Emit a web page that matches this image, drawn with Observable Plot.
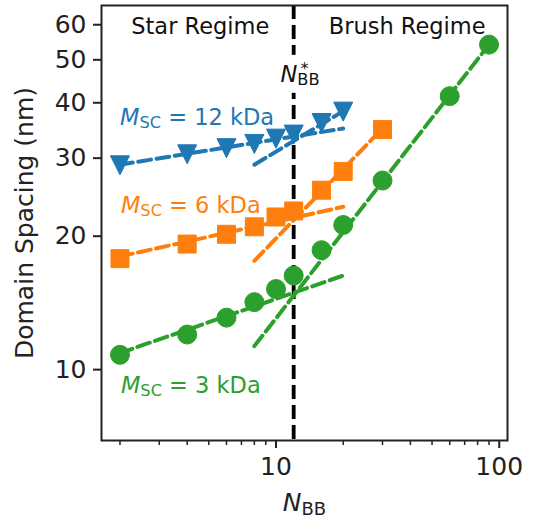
<!DOCTYPE html>
<html><head><meta charset="utf-8">
<script src="https://cdn.jsdelivr.net/npm/d3@7"></script>
<script src="https://cdn.jsdelivr.net/npm/@observablehq/plot@0.6"></script>
<style>body{margin:0;background:#fff}#chart svg{display:block}</style>
</head><body><div id="chart"></div>
<script>
// ---- data ----
const nbb12 = [2, 4, 6, 8, 10, 12, 16, 20];
const spacing12 = [28.9, 30.6, 31.6, 32.3, 33.2, 33.9, 36.0, 38.2];
const nbb6 = [2, 4, 6, 8, 10, 12, 16, 20, 30];
const spacing6 = [17.8, 19.2, 20.2, 21.0, 22.1, 22.8, 25.4, 28.0, 34.8];
const nbb3 = [2, 4, 6, 8, 10, 12, 16, 20, 30, 60, 90];
const spacing3 = [10.8, 12.0, 13.1, 14.2, 15.2, 16.3, 18.6, 21.2, 26.7, 41.4, 54.1];

// power-law fit segments (end points)
const starFit12N = [2, 20], starFit12D = [29.0, 35.0];
const brushFit12N = [8, 20], brushFit12D = [29.0, 38.3];
const starFit6N = [2, 20], starFit6D = [18.0, 23.3];
const brushFit6N = [8, 30], brushFit6D = [17.6, 35.0];
const starFit3N = [2, 20], starFit3D = [10.9, 16.3];
const brushFit3N = [8, 90], brushFit3D = [11.3, 54.1];

const nbbStar = [12];
const seriesColors = ["#1f77b4", "#ff7f0e", "#2ca02c"];
const yTicks = [10, 20, 30, 40, 50, 60];
const xMajorTicks = [10, 100];
const xMinorTicks = [2, 3, 4, 5, 6, 7, 8, 9, 20, 30, 40, 50, 60, 70, 80, 90];

// ---- symbols matching matplotlib markers ----
const squareSym = {draw(ctx, size) { const h = Math.sqrt(size / Math.PI); ctx.rect(-h, -h, 2 * h, 2 * h); }};
const triDownSym = {draw(ctx, size) { const h = Math.sqrt(size / Math.PI); ctx.moveTo(0, h); ctx.lineTo(-h, -h); ctx.lineTo(h, -h); ctx.closePath(); }};

const toRows = (ns, ds) => ns.map((n, i) => ({n, d: ds[i]}));
const series = [
  {pts: toRows(nbb12, spacing12), star: toRows(starFit12N, starFit12D), brush: toRows(brushFit12N, brushFit12D), color: seriesColors[0], symbol: triDownSym, r: 9.5},
  {pts: toRows(nbb6, spacing6), star: toRows(starFit6N, starFit6D), brush: toRows(brushFit6N, brushFit6D), color: seriesColors[1], symbol: squareSym, r: 9},
  {pts: toRows(nbb3, spacing3), star: toRows(starFit3N, starFit3D), brush: toRows(brushFit3N, brushFit3D), color: seriesColors[2], symbol: "circle", r: 9.5}
];

const fitMarks = series.flatMap(s => [
  Plot.line(s.star, {x: "n", y: "d", stroke: s.color, strokeWidth: 4, strokeDasharray: "13,5.5"}),
  Plot.line(s.brush, {x: "n", y: "d", stroke: s.color, strokeWidth: 4, strokeDasharray: "13,5.5"})
]);
const dotMarks = series.map(s =>
  Plot.dot(s.pts, {x: "n", y: "d", symbol: s.symbol, r: s.r, fill: s.color, stroke: s.color, strokeWidth: 1})
);

const ann = (txt, x, y, color, opts = {}) =>
  Plot.text([txt], {x, y, text: d => d, fill: color, fontSize: 22.5, textAnchor: "start", lineAnchor: "bottom", ...opts});

const plot = Plot.plot({
  width: 533, height: 527,
  marginLeft: 101, marginRight: 26, marginTop: 5, marginBottom: 87,
  x: {type: "log", domain: [1.653, 108.9]},
  y: {type: "log", domain: [6.92, 66.3]},
  style: {fontFamily: "DejaVu Sans", background: "white", color: "#222", fontSize: "24px"},
  marks: [
    Plot.ruleX(nbbStar, {stroke: "black", strokeWidth: 3.8, strokeDasharray: "14,6"}),
    ...fitMarks,
    ...dotMarks,
    Plot.axisX({ticks: xMinorTicks, tickSize: 5, strokeWidth: 1.5, tickFormat: () => "", label: null}),
    Plot.axisX({ticks: xMajorTicks, tickSize: 8, strokeWidth: 2, tickPadding: 9, tickFormat: d => String(d), fontSize: 25, label: null}),
    Plot.axisY({ticks: yTicks, tickSize: 8, strokeWidth: 2, tickPadding: 7, tickFormat: d => String(d), fontSize: 25, label: null}),
    Plot.frame({stroke: "#222", strokeWidth: 2}),
    ann("Star Regime", 4.58, 57.3, "#111", {textAnchor: "middle"}),
    ann("Brush Regime", 38.7, 57.3, "#111", {textAnchor: "middle"}),
    ann("M_SC = 12 kDa", 2.0, 35.7, seriesColors[0]),
    ann("M_SC = 6 kDa", 2.02, 22.6, seriesColors[1]),
    ann("M_SC = 3 kDa", 2.02, 8.84, seriesColors[2]),
    ann("NSTAR_BB", 10.47, 44.6, "#111"),
    Plot.text(["Domain Spacing (nm)"], {frameAnchor: "left", textAnchor: "middle", rotate: -90, dx: -77, fontSize: 25, fill: "#222"}),
    Plot.text(["N_BB"], {frameAnchor: "bottom", textAnchor: "middle", lineAnchor: "bottom", dy: 70, fontSize: 25, fill: "#222"})
  ]
});
document.getElementById("chart").append(plot);

// ---- rich text (italic symbols, sub/superscripts) ----
function rich(t, parts) {
  while (t.firstChild) t.removeChild(t.firstChild);
  for (const p of parts) {
    const ts = document.createElementNS("http://www.w3.org/2000/svg", "tspan");
    ts.textContent = p.t;
    if (p.italic) ts.setAttribute("font-style", "italic");
    if (p.size) ts.setAttribute("font-size", p.size);
    if (p.dy) ts.setAttribute("dy", p.dy);
    if (p.dx) ts.setAttribute("dx", p.dx);
    t.appendChild(ts);
  }
}
plot.querySelectorAll("text").forEach(t => {
  const s = t.textContent;
  let m;
  if ((m = s.match(/^M_SC = (\d+) kDa$/))) {
    rich(t, [{t: "M", italic: true}, {t: "SC", size: "0.72em", dy: 3}, {t: " = " + m[1] + " kDa", dy: -3}]);
  } else if (s === "NSTAR_BB") {
    rich(t, [{t: "N", italic: true}, {t: "BB", size: "0.72em", dy: 3}, {t: "*", size: "0.72em", dx: -19, dy: -11}]);
    const b = t.getBoundingClientRect(), sb = plot.getBoundingClientRect();
    const rect = document.createElementNS("http://www.w3.org/2000/svg", "rect");
    rect.setAttribute("x", b.left - sb.left - 4);
    rect.setAttribute("y", b.top - sb.top - 4);
    rect.setAttribute("width", b.width + 8);
    rect.setAttribute("height", b.height + 8);
    rect.setAttribute("fill", "white");
    const g = t.closest("g");
    g.parentNode.insertBefore(rect, g);
  } else if (s === "N_BB") {
    rich(t, [{t: "N", italic: true}, {t: "BB", size: "0.72em", dy: 4}]);
  }
});
</script>
</body></html>
